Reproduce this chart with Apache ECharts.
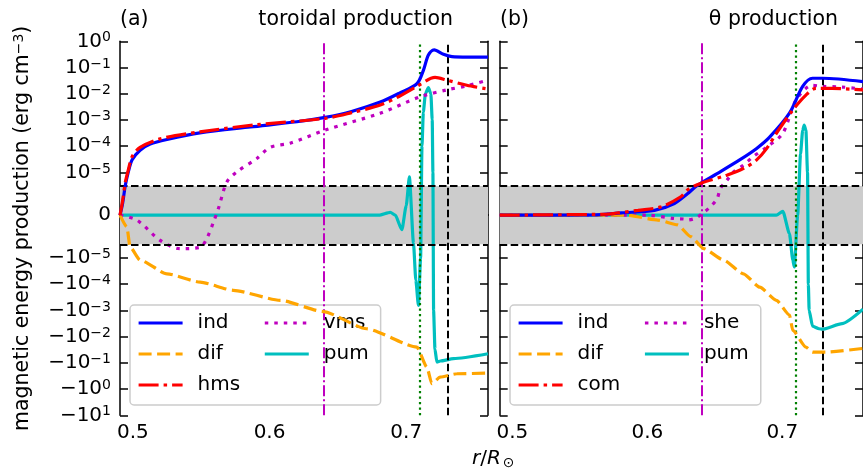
<!DOCTYPE html>
<html>
<head>
<meta charset="utf-8">
<script src="https://cdn.jsdelivr.net/npm/echarts@6/dist/echarts.min.js"></script>
<style>
  html, body { margin: 0; padding: 0; background: #fff; }
  #chart { width: 863px; height: 472px; }
</style>
</head>
<body>
<div id="chart"></div>
<script>
// symlog y axis: linear inside +-LIN, log10 outside
const LIN = 3e-6
const LINSCALE = 1 / 0.9

// panel (a) toroidal production
const rIndA = [0.4906, 0.4925, 0.4944, 0.4966, 0.4995, 0.5053, 0.5127, 0.525, 0.549, 0.586, 0.62, 0.6407, 0.66, 0.681, 0.695, 0.7078, 0.7126, 0.7162, 0.7204, 0.7272, 0.7334, 0.745, 0.7598]
const indA = [0, 1.2e-6, 3e-6, 1e-5, 3e-5, 7e-5, 1.2e-4, 1.8e-4, 3.2e-4, 5.4e-4, 8.5e-4, 1.25e-3, 2.1e-3, 4.8e-3, 1.05e-2, 0.024, 0.08, 0.3, 0.47, 0.32, 0.26, 0.25, 0.25]
const rDifA = [0.4906, 0.4956, 0.498, 0.5053, 0.5249, 0.5492, 0.5734, 0.6078, 0.6392, 0.671, 0.7078, 0.7151, 0.7187, 0.7248, 0.737, 0.7598]
const difA = [0, -1.2e-6, -3.8e-6, -1.2e-5, -4e-5, -8.3e-5, -1.7e-4, -4.1e-4, -1.1e-3, -5e-3, -0.025, -0.145, -0.62, -0.35, -0.26, -0.245]
const rHmsA = [0.4906, 0.4925, 0.4944, 0.4966, 0.4995, 0.5053, 0.52, 0.549, 0.59, 0.6407, 0.66, 0.681, 0.695, 0.7078, 0.7211, 0.7297, 0.7443, 0.7598]
const hmsA = [0, 1.5e-6, 4e-6, 1.2e-5, 4e-5, 9e-5, 1.9e-4, 3.5e-4, 6.5e-4, 1.15e-3, 1.9e-3, 3.7e-3, 8e-3, 0.019, 0.042, 0.033, 0.021, 0.015]
const rVmsA = [0.4906, 0.5029, 0.52, 0.5346, 0.5492, 0.5541, 0.559, 0.5626, 0.5688, 0.5761, 0.5907, 0.6004, 0.6151, 0.6407, 0.6809, 0.7102, 0.7297, 0.7443, 0.7598]
const vmsA = [0, -5e-7, -2.6e-6, -4.4e-6, -3.9e-6, -2.4e-6, -7e-7, 7e-7, 4.3e-6, 1.04e-5, 3.4e-5, 9e-5, 1.3e-4, 4.1e-4, 1.8e-3, 7.7e-3, 0.014, 0.02, 0.033]
const rPumA = [0.4906, 0.68, 0.6883, 0.692, 0.6968, 0.7, 0.7023, 0.7053, 0.707, 0.7089, 0.7105, 0.7115, 0.7125, 0.714, 0.7162, 0.718, 0.719, 0.7195, 0.72, 0.721, 0.7224, 0.725, 0.7345, 0.7598]
const pumA = [0, 0, 3e-7, 0, -1.5e-6, 1e-6, 6.7e-6, -2.9e-6, -7e-5, -6.4e-4, -1e-5, 1e-4, 2e-3, 0.01, 0.017, 0.01, 1e-3, 1e-5, -1e-3, -0.03, -0.093, -0.085, -0.069, -0.045]

// panel (b) theta production
const rIndB = [0.4906, 0.56, 0.5809, 0.6053, 0.62, 0.6297, 0.637, 0.6517, 0.6687, 0.681, 0.6906, 0.7053, 0.7151, 0.7224, 0.7297, 0.7598]
const indB = [0, 2e-8, 2.4e-7, 5e-7, 1.2e-6, 2.2e-6, 3.2e-6, 9e-6, 3.06e-5, 8.2e-5, 2.2e-4, 1.8e-3, 0.019, 0.039, 0.039, 0.029]
const rDifB = [0.4906, 0.585, 0.6078, 0.6224, 0.6321, 0.6419, 0.6565, 0.6712, 0.6833, 0.6956, 0.7053, 0.7078, 0.7175, 0.7224, 0.7321, 0.7598]
const difB = [0, 0, -5e-7, -1e-6, -2.2e-6, -4.4e-6, -1.2e-5, -4e-5, -1.3e-4, -4.1e-4, -1.5e-3, -5.8e-3, -0.025, -0.039, -0.039, -0.028]
const rComB = [0.4906, 0.57, 0.5761, 0.5931, 0.6102, 0.6248, 0.6297, 0.6394, 0.6589, 0.672, 0.681, 0.6885, 0.6956, 0.7078, 0.7175, 0.7248, 0.737, 0.7598]
const comB = [0, 1e-7, 2e-7, 5e-7, 8.6e-7, 1.9e-6, 2.6e-6, 3.8e-6, 7.8e-6, 1.47e-5, 3e-5, 8.2e-5, 3.1e-4, 2.4e-3, 8.9e-3, 0.016, 0.016, 0.014]
const rSheB = [0.4906, 0.6, 0.62, 0.6273, 0.6297, 0.6358, 0.6419, 0.6467, 0.6517, 0.6541, 0.659, 0.6639, 0.6712, 0.6785, 0.6882, 0.7004, 0.7102, 0.7224, 0.7297, 0.7443, 0.7598]
const sheB = [0, 0, -3.4e-7, -4e-7, -5e-7, -3e-7, 3e-7, 8.6e-7, 1.7e-6, 2.75e-6, 5e-6, 1.04e-5, 1.9e-5, 4e-5, 9e-5, 3.1e-4, 5.8e-3, 0.021, 0.019, 0.018, 0.015]
const rPumB = [0.4906, 0.6956, 0.7004, 0.7053, 0.7078, 0.7089, 0.7114, 0.7135, 0.7151, 0.7162, 0.7175, 0.7187, 0.7193, 0.7199, 0.7224, 0.7272, 0.7297, 0.7443, 0.7598]
const pumB = [0, 0, 4e-7, -1.9e-6, -1.2e-5, -2.2e-5, 0, 5e-5, 4e-4, 6.3e-4, 4e-4, 1e-5, -1e-4, -1e-3, -4e-3, -5e-3, -5.2e-3, -3.2e-3, -9e-4]

// reference lines
const vLines = [0.6405, 0.7095, 0.7285]

// y ticks
const yTicks = [1, 1e-1, 1e-2, 1e-3, 1e-4, 1e-5, 0, -1e-5, -1e-4, -1e-3, -1e-2, -1e-1, -1, -10]
const yTickLabels = ['10{s|0}', '10{s|−1}', '10{s|−2}', '10{s|−3}', '10{s|−4}', '10{s|−5}', '0',
  '−10{s|−5}', '−10{s|−4}', '−10{s|−3}', '−10{s|−2}', '−10{s|−1}', '−10{s|0}', '−10{s|1}']
const xTicks = [0.5, 0.6, 0.7]

const FONT = 'DejaVu Sans'
const FS = 20

function symlog(v) {
  const a = Math.abs(v)
  if (a <= LIN) return v / LIN * LINSCALE
  return Math.sign(v) * (LINSCALE + Math.log10(a / LIN))
}
const pts = (rs, vs) => rs.map((r, i) => [r, symlog(vs[i])])

const yMin = symlog(-10)
const yMax = symlog(1)
const yTickPos = yTicks.map(symlog)
const X_MIN = 0.4906, X_MAX = 0.7598

const axisLineStyle = { color: '#000', width: 1.5 }
const supRich = { s: { fontSize: 14, fontFamily: FONT, color: '#000', verticalAlign: 'top', padding: [0, 0, 7, 0] } }

function xAxisPair(grid) {
  const base = {
    type: 'value', gridIndex: grid, min: X_MIN, max: X_MAX,
    splitLine: { show: false },
    axisLine: { lineStyle: axisLineStyle },
    axisTick: { inside: true, length: 8, customValues: xTicks, lineStyle: axisLineStyle }
  }
  return [
    Object.assign({}, base, {
      position: 'bottom',
      axisLabel: { customValues: xTicks, margin: 7, fontSize: FS, fontFamily: FONT, color: '#000', formatter: v => v.toFixed(1) }
    }),
    Object.assign({}, base, { position: 'top', axisLabel: { show: false } })
  ]
}

function yAxisPair(grid, labels) {
  const base = {
    type: 'value', gridIndex: grid, min: yMin, max: yMax,
    splitLine: { show: false },
    axisLine: { lineStyle: axisLineStyle },
    axisTick: { inside: true, length: 8, customValues: yTickPos, lineStyle: axisLineStyle }
  }
  const left = Object.assign({}, base, {
    position: 'left',
    axisLabel: labels ? {
      customValues: yTickPos, margin: 9, fontSize: FS, fontFamily: FONT, color: '#000',
      rich: supRich,
      formatter: v => {
        let best = 0
        yTickPos.forEach((p, i) => { if (Math.abs(p - v) < Math.abs(yTickPos[best] - v)) best = i })
        return yTickLabels[best]
      }
    } : { show: false }
  })
  if (labels) {
    Object.assign(left, {
      name: 'magnetic energy production (erg cm{s|−3})',
      nameLocation: 'middle', nameRotate: 90, nameGap: 87,
      nameTextStyle: { fontSize: FS + 0.5, fontFamily: FONT, color: '#000', rich: supRich }
    })
  }
  const right = Object.assign({}, base, { position: 'right', axisLabel: { show: false } })
  return [left, right]
}

// spiky curves (pum, dif) keep monotone smoothing so they do not overshoot
function curve(name, rs, vs, grid, color, type, z, spiky) {
  const s = {
    name, type: 'line', xAxisIndex: grid * 2, yAxisIndex: grid * 2,
    data: pts(rs, vs), symbol: 'none', smooth: spiky ? 0.2 : 0.3,
    color, lineStyle: { color, width: 3.2, type }, z: z || 3, silent: true
  }
  if (spiky) s.smoothMonotone = 'x'
  return s
}

function refSeries(grid) {
  return {
    type: 'line', xAxisIndex: grid * 2, yAxisIndex: grid * 2, data: [], z: 1, silent: true,
    markArea: {
      silent: true, itemStyle: { color: '#cccccc' },
      data: [[{ yAxis: symlog(-LIN) }, { yAxis: symlog(LIN) }]]
    },
    markLine: {
      silent: true, symbol: 'none', label: { show: false },
      data: [
        { yAxis: symlog(LIN), lineStyle: { color: '#000', width: 2, type: [7.5, 3.5] } },
        { yAxis: symlog(-LIN), lineStyle: { color: '#000', width: 2, type: [7.5, 3.5] } },
        { xAxis: vLines[0], lineStyle: { color: '#bf00bf', width: 2, type: [11, 3, 2, 3] } },
        { xAxis: vLines[1], lineStyle: { color: '#008000', width: 2.2, type: [2.2, 3.3] } },
        { xAxis: vLines[2], lineStyle: { color: '#000', width: 2, type: [7.5, 3.5] } }
      ]
    }
  }
}

const DASH = [13, 5.5], DASHDOT = [20, 5, 3.5, 5], DOT = [3.5, 6]

function legendFor(left, names) {
  return {
    data: names, orient: 'vertical', left, top: 305, height: 85,
    itemGap: 11, itemWidth: 44, itemHeight: 14,
    padding: [8, 0, 10, 7],
    itemStyle: { opacity: 0 },
    lineStyle: { width: 3.2 },
    backgroundColor: 'rgba(255,255,255,0.8)', borderColor: '#cccccc', borderWidth: 1.5, borderRadius: 4,
    textStyle: { fontSize: FS, fontFamily: FONT, color: '#000', padding: [0, 12, 0, 10], lineHeight: 20 }
  }
}

const titleStyle = { fontSize: 20.5, fontFamily: FONT, color: '#000', fontWeight: 'normal' }

const chart = echarts.init(document.getElementById('chart'))
chart.setOption({
  animation: false,
  backgroundColor: '#fff',
  title: [
    { text: '(a)', left: 120, top: 9, padding: 0, textStyle: titleStyle },
    { text: 'toroidal production', right: 410, top: 9, padding: 0, textStyle: titleStyle },
    { text: '(b)', left: 500, top: 9, padding: 0, textStyle: titleStyle },
    { text: 'θ production', right: 25, top: 9, padding: 0, textStyle: titleStyle }
  ],
  grid: [
    { left: 120, top: 41.3, width: 368, height: 374 },
    { left: 499.7, top: 41.3, width: 368, height: 374 }
  ],
  xAxis: [...xAxisPair(0), ...xAxisPair(1)],
  yAxis: [...yAxisPair(0, true), ...yAxisPair(1, false)],
  legend: [
    legendFor(130, ['ind', 'dif', 'hms', 'vms', 'pum']),
    legendFor(510, ['ind', 'dif', 'com', 'she', 'pum'])
  ],
  graphic: [{
    type: 'text', x: 472, y: 448,
    style: {
      text: '{i|r}/{i|R}{s|⊙}', fontSize: FS, fontFamily: FONT, fill: '#000',
      rich: {
        i: { fontStyle: 'italic', fontSize: FS, fontFamily: FONT },
        s: { fontSize: 14, fontFamily: FONT, verticalAlign: 'bottom', padding: [8, 0, 0, 2] }
      }
    }
  }],
  series: [
    refSeries(0),
    refSeries(1),
    curve('pum', rPumA, pumA, 0, '#00bfbf', 'solid', 3, true),
    curve('vms', rVmsA, vmsA, 0, '#bf00bf', DOT, 4),
    curve('dif', rDifA, difA, 0, '#ffa500', DASH, 5, true),
    curve('ind', rIndA, indA, 0, '#0000ff', 'solid', 6),
    curve('hms', rHmsA, hmsA, 0, '#ff0000', DASHDOT, 7),
    curve('pum', rPumB, pumB, 1, '#00bfbf', 'solid', 3, true),
    curve('she', rSheB, sheB, 1, '#bf00bf', DOT, 4),
    curve('dif', rDifB, difB, 1, '#ffa500', DASH, 5, true),
    curve('ind', rIndB, indB, 1, '#0000ff', 'solid', 6),
    curve('com', rComB, comB, 1, '#ff0000', DASHDOT, 7)
  ]
})
window.addEventListener('resize', () => chart.resize())
</script>
</body>
</html>
